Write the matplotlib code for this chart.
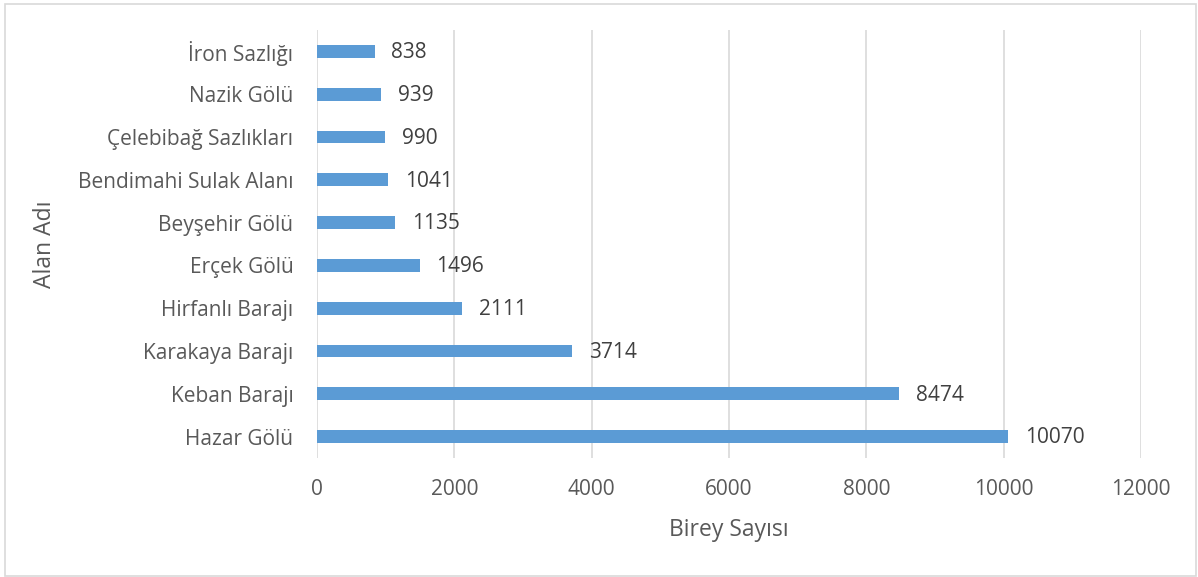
import matplotlib
matplotlib.use("Agg")
import matplotlib.pyplot as plt
from matplotlib.patches import Rectangle

categories = ["Hazar Gölü", "Keban Barajı", "Karakaya Barajı", "Hirfanlı Barajı",
              "Erçek Gölü", "Beyşehir Gölü", "Bendimahi Sulak Alanı",
              "Çelebibağ Sazlıkları", "Nazik Gölü", "İron Sazlığı"]
values = [10070, 8474, 3714, 2111, 1496, 1135, 1041, 990, 939, 838]
xticks = [0, 2000, 4000, 6000, 8000, 10000, 12000]

plt.rcParams['font.family'] = ['Open Sans', 'DejaVu Sans']
W, H = 1198, 577
fig = plt.figure(figsize=(W / 100, H / 100), dpi=100)
fig.patch.set_facecolor('white')
fig.patches.append(Rectangle((5 / W, 1 / H), (W - 7) / W, (H - 5) / H,
                             transform=fig.transFigure, fill=False,
                             edgecolor='#d9d9d9', linewidth=1.2))

ax = fig.add_axes([317 / W, 1 - 458 / H, (1141 - 317) / W, (458 - 30) / H])
ypos = list(range(len(categories)))
ax.barh(ypos, values, height=0.3, color='#5b9bd5', zorder=3)
ax.set_xlim(0, 12000)
ax.set_ylim(-0.5, len(categories) - 0.5)
ax.set_yticks(ypos)
ax.set_yticklabels(categories, fontsize=15, color='#595959')
ax.set_xticks(xticks)
ax.set_xticklabels([str(t) for t in xticks], fontsize=15, color='#595959')
ax.tick_params(axis='both', length=0)
ax.tick_params(axis='y', pad=17)
ax.tick_params(axis='x', pad=15)
ax.grid(axis='x', color='#d9d9d9', linewidth=1.2, zorder=0)
for s in ax.spines.values():
    s.set_visible(False)

for y, v in zip(ypos, values):
    ax.annotate(str(v), (v, y), xytext=(12, -1), textcoords='offset points',
                va='center', ha='left', fontsize=15, color='#404040')

ax.set_xlabel('Birey Sayısı', fontsize=16.5, color='#595959')
ax.set_ylabel('Alan Adı', fontsize=16.5, color='#595959')
ax.yaxis.set_label_coords((45 - 317) / (1141 - 317), 0.5)
ax.xaxis.set_label_coords(0.5, (458 - 530) / (458 - 30))
ax.xaxis.label.set_va('center')
ax.yaxis.label.set_va('center')

fig.savefig('out.png', dpi=100)
